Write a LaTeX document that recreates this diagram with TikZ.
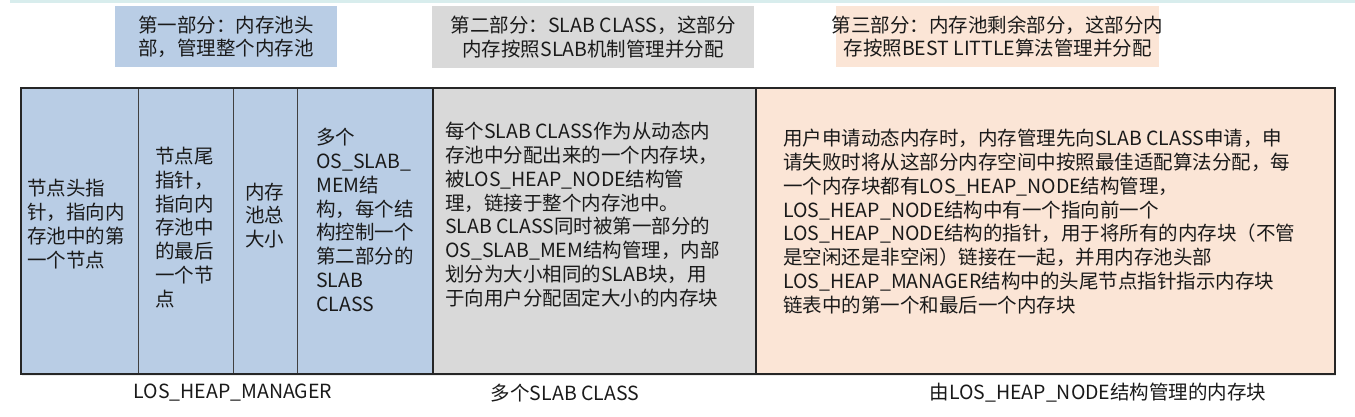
\documentclass[tikz,border=0pt]{standalone}
\usepackage{fontspec}
\setmainfont{Noto Sans CJK SC}
\definecolor{pblue}{HTML}{B9CDE5}
\definecolor{pgray}{HTML}{D9D9D9}
\definecolor{ppeach}{HTML}{FBE5D6}
\definecolor{pcyan}{HTML}{D8EDED}
\definecolor{ptext}{HTML}{1A1A1A}
\tikzset{
  txt/.style={inner sep=0pt, align=left, anchor=west, font=\fontsize{19.5}{23.8}\selectfont, text=ptext},
  head/.style={inner sep=0pt, align=center, font=\fontsize{19.5}{23.3}\selectfont, text=ptext},
  lab/.style={inner sep=0pt, font=\fontsize{19.5}{23.8}\selectfont, text=ptext},
  cell/.style={draw=black!75, line width=1.2pt, inner sep=0pt, anchor=north west},
  sect/.style={draw=black!85, line width=2pt, inner sep=0pt, anchor=north west},
  hbox/.style={inner sep=0pt, anchor=north west},
}
\begin{document}
\begin{tikzpicture}[x=1pt,y=-1pt]
\useasboundingbox (0,0) rectangle (1355,417);
\fill[white] (0,0) rectangle (1355,417);
\fill[pcyan] (10,0) rectangle (1355,3);
% header boxes
\node[hbox, fill=pblue, minimum width=222pt, minimum height=61pt] (h1) at (115,6) {};
\node[hbox, fill=pgray, minimum width=322pt, minimum height=62pt] (h2) at (432,6) {};
\node[hbox, fill=ppeach, minimum width=323pt, minimum height=61pt] (h3) at (836,6) {};
\node[head] (h1t) at (h1.center) {第一部分：内存池头\\部，管理整个内存池};
\node[head] (h2t) at (h2.center) {第二部分：SLAB CLASS，这部分\\内存按照SLAB机制管理并分配};
\node[head] (h3t) at (h3.center) {第三部分：内存池剩余部分，这部分内\\存按照BEST LITTLE算法管理并分配};
% soft shadow under main block
\fill[black!8] (22,373) rectangle (1336,376);
% main cells
\node[cell, fill=pblue, minimum width=118pt, minimum height=286pt] (c1) at (20,87) {};
\node[cell, fill=pblue, minimum width=95pt, minimum height=286pt] (c2) at (138,87) {};
\node[cell, fill=pblue, minimum width=64pt, minimum height=286pt] (c3) at (233,87) {};
\node[cell, fill=pblue, minimum width=135pt, minimum height=286pt] (c4) at (297,87) {};
\node[sect, fill=pgray, minimum width=323pt, minimum height=286pt] (c5) at (432,87) {};
\node[sect, fill=ppeach, minimum width=579pt, minimum height=286pt] (c6) at (755,87) {};
\node[sect, minimum width=412pt, minimum height=286pt] (blue) at (20,87) {};
% cell texts
\node[txt] (t1) at (27,224) {节点头指\\针，指向内\\存池中的第\\一个节点};
\node[txt] (t2) at (155,227.5) {节点尾\\指针，\\指向内\\存池中\\的最后\\一个节\\点};
\node[txt] (t3) at (245,215.5) {内存\\池总\\大小};
\node[txt] (t4) at (316,220) {多个\\OS\_SLAB\_\\MEM结\\构，每个结\\构控制一个\\第二部分的\\SLAB\\CLASS};
\node[txt] (t5) at (445,214.5) {每个SLAB CLASS作为从动态内\\存池中分配出来的一个内存块，\\被LOS\_HEAP\_NODE结构管\\理，链接于整个内存池中。\\SLAB CLASS同时被第一部分的\\OS\_SLAB\_MEM结构管理，内部\\划分为大小相同的SLAB块，用\\于向用户分配固定大小的内存块};
\node[txt] (t6) at (783,221.5) {用户申请动态内存时，内存管理先向SLAB CLASS申请，申\\请失败时将从这部分内存空间中按照最佳适配算法分配，每\\一个内存块都有LOS\_HEAP\_NODE结构管理，\\LOS\_HEAP\_NODE结构中有一个指向前一个\\LOS\_HEAP\_NODE结构的指针，用于将所有的内存块（不管\\是空闲还是非空闲）链接在一起，并用内存池头部\\LOS\_HEAP\_MANAGER结构中的头尾节点指针指示内存块\\链表中的第一个和最后一个内存块};
% bottom labels
\node[lab] (l1) at (233,393) {LOS\_HEAP\_MANAGER};
\node[lab] (l2) at (565,393) {多个SLAB CLASS};
\node[lab] (l3) at (1098,393) {由LOS\_HEAP\_NODE结构管理的内存块};
\end{tikzpicture}
\end{document}
